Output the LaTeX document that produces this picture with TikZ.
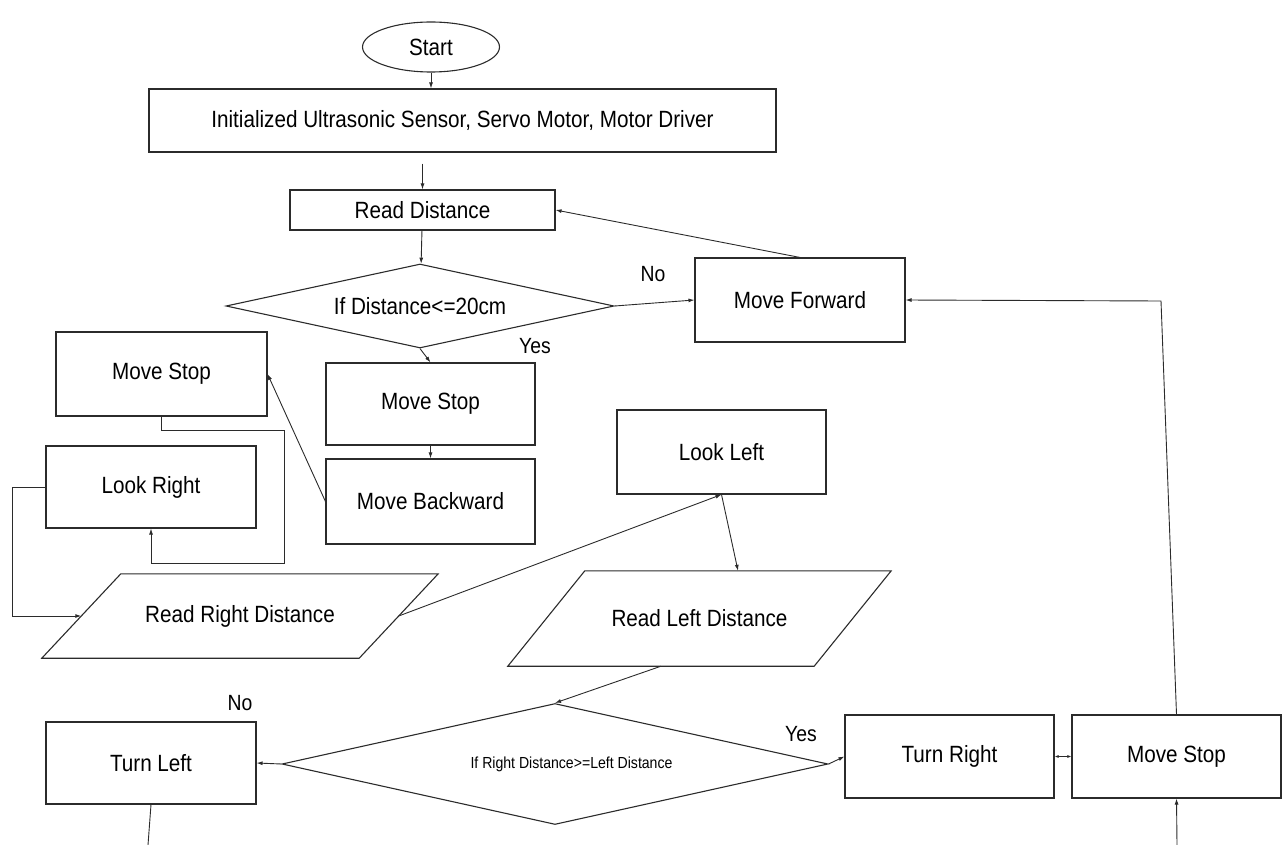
\documentclass[tikz,border=0pt]{standalone}
\usepackage{fontspec}
\setmainfont{Liberation Sans}[FakeStretch=0.88]
\usepackage{tikz}
\usetikzlibrary{shapes.geometric, arrows.meta, positioning}
\definecolor{LineGray}{HTML}{2B2B2B}

\tikzset{
  box/.style={draw=LineGray, line width=1.1pt, rectangle, minimum width=209pt,
              minimum height=83pt, inner sep=0pt, font=\fontsize{23.5}{28}\selectfont},
  decision/.style={draw=LineGray, line width=1.1pt, diamond, inner sep=0pt},
  iobox/.style={rectangle, inner sep=0pt, font=\fontsize{23.5}{28}\selectfont},
  ioline/.style={draw=LineGray, line width=1.1pt},
  arr/.style={draw=LineGray, line width=0.9pt, -{Latex[length=6pt,width=4pt]}},
  link/.style={draw=LineGray, line width=0.9pt},
  tag/.style={inner sep=0pt, font=\fontsize{22}{26}\selectfont}
}

\begin{document}
\begin{tikzpicture}[x=1pt, y=-1pt]
    \useasboundingbox (0,0) rectangle (1287,845);

    \node[draw=LineGray, line width=1.1pt, ellipse, minimum width=137pt, minimum height=50pt,
          inner sep=0pt, font=\fontsize{23.5}{28}\selectfont] (start) at (431,47) {Start};
    \node[box, minimum width=627pt, minimum height=63pt] (init) at (462.5,120.5)
        {Initialized Ultrasonic Sensor, Servo Motor, Motor Driver};
    \node[box, minimum width=265pt, minimum height=40pt] (read) at (422.5,210) {Read Distance};
    \node[decision, shape aspect=4.6, minimum width=388pt, minimum height=84pt,
          font=\fontsize{23.5}{28}\selectfont] (check) at (420,306) {If Distance<=20cm};
    \node[box, minimum width=210pt, minimum height=84pt] (forward) at (800,300) {Move Forward};
    \node[box, minimum height=82pt] (stopa) at (430.5,404) {Move Stop};
    \node[box, minimum height=85pt] (backward) at (430.5,501.5) {Move Backward};
    \node[box, minimum width=211pt, minimum height=84pt] (stopb) at (161.5,374) {Move Stop};
    \node[box, minimum width=210pt, minimum height=82pt] (lookright) at (151,487) {Look Right};
    \node[iobox, minimum width=317pt, minimum height=84pt] (readright) at (240,616) {Read Right Distance};
    \node[box, minimum height=84pt] (lookleft) at (721.5,452) {Look Left};
    \node[iobox, minimum width=306pt, minimum height=95pt] (readleft) at (699.5,618.5) {Read Left Distance};
    \node[decision, shape aspect=4.5, minimum width=546pt, minimum height=121pt,
          font=\fontsize{16}{19}\selectfont] (compare) at (555,764) {\hspace{33pt}If Right Distance>=Left Distance};
    \node[box, minimum width=210pt, minimum height=82pt] (turnleft) at (151,763) {Turn Left};
    \node[box] (turnright) at (949.5,756.5) {Turn Right};
    \node[box] (stopc) at (1176.5,756.5) {Move Stop};

    \draw[ioline] ([xshift=39.5pt]readright.north west) -- ([xshift=39.5pt]readright.north east)
        -- ([xshift=-39.5pt]readright.south east) -- ([xshift=-39.5pt]readright.south west) -- cycle;
    \draw[ioline] ([xshift=38.5pt]readleft.north west) -- ([xshift=38.5pt]readleft.north east)
        -- ([xshift=-38.5pt]readleft.south east) -- ([xshift=-38.5pt]readleft.south west) -- cycle;

    \node[tag] (noa) at (653,274) {No};
    \node[tag] (yesa) at (535,346) {Yes};
    \node[tag] (nob) at (240,703) {No};
    \node[tag] (yesb) at (801,734) {Yes};

    \coordinate (bend) at (1161,301);
    \coordinate (fromleft) at (148,845);
    \coordinate (tostop) at (1177,845);

    \draw[arr] (start) -- (start |- init.north);
    \draw[arr] ([yshift=-11pt]init.south -| read) -- (read);
    \draw[arr] (read) -- (check);
    \draw[arr] (check.east) -- (forward.west);
    \draw[arr] (check.south) -- (stopa.north);
    \draw[arr] (forward.north) -- (read.east);
    \draw[arr] (stopa) -- (backward);
    \draw[arr] (backward.west) -- (stopb.east);
    \draw[arr] (stopb.south) -- ++(0,14) -| ++(122.5,133) -| (lookright.south);
    \draw[arr] (lookright.west) -- ++(-33,0) |- (readright.west);
    \draw[arr] (readright.east) -- (lookleft.south);
    \draw[arr] (lookleft.south) -- ([xshift=38.5pt]readleft.north);
    \draw[arr] ([xshift=-38.5pt]readleft.south) -- (compare.north);
    \draw[arr] (compare.west) -- (turnleft.east);
    \draw[arr] (compare.east) -- (turnright.west);
    \draw[link, {Latex[length=4pt,width=3pt]}-{Latex[length=4pt,width=3pt]}] (turnright.east) -- (stopc.west);
    \draw[arr] (stopc.north) -- (bend) -- (forward.east);
    \draw[arr] (tostop) -- (stopc.south);
    \draw[link] (turnleft.south) -- (fromleft);
\end{tikzpicture}
\end{document}
